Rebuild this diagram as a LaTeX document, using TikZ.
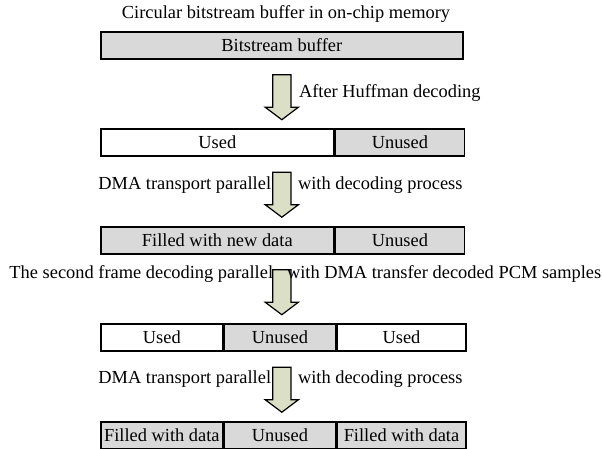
\documentclass[tikz,border=0pt]{standalone}
\usepackage{fontspec}
\setmainfont{Liberation Serif}
\definecolor{bufGray}{HTML}{D9D9D9}
\definecolor{bufOlive}{HTML}{DADFC6}
\usetikzlibrary{
	positioning,
	shapes.arrows
}

\begin{document}
\begin{tikzpicture}[x=1pt, y=-1pt,
		font=\fontsize{18.4}{22}\selectfont,
		cell/.style={rectangle, draw=black, line width=1.6pt, anchor=north west, minimum height=27pt, inner sep=0pt, text height=12.5pt, text depth=0.5pt},
		used/.style={cell, fill=white},
		free/.style={cell, fill=bufGray},
		bigarrow/.style={single arrow, draw=black, line width=1.2pt, fill=bufOlive, shape border rotate=270, minimum height=45pt, minimum width=32pt, inner xsep=8.5pt, inner ysep=0pt, single arrow head extend=7.5pt, single arrow tip angle=106},
		lbl/.style={inner sep=0pt, text height=12.5pt, text depth=4pt}
	]
		\useasboundingbox (0,0) rectangle (602,449);
		\node[lbl] (title) at (286,14) {Circular bitstream buffer in on-chip memory};
		\node[free, minimum width=362pt] (bitbuf) at (100,31) {Bitstream buffer};
		\node[used, minimum width=233pt] (usedA) at (100,128) {Used};
		\node[free, minimum width=129pt, right=0pt of usedA] (unusedA) {Unused};
		\node[free, minimum width=233pt] (newdata) at (100,226) {Filled with new data};
		\node[free, minimum width=129pt, right=0pt of newdata] (unusedB) {Unused};
		\node[used, minimum width=122pt] (usedB) at (100,323) {Used};
		\node[free, minimum width=111pt, right=0pt of usedB] (unusedC) {Unused};
		\node[used, minimum width=129pt, right=0pt of unusedC] (usedC) {Used};
		\node[free, minimum width=122pt] (dataA) at (100,421) {Filled with data};
		\node[free, minimum width=111pt, right=0pt of dataA] (unusedD) {Unused};
		\node[free, minimum width=129pt, right=0pt of unusedD] (dataB) {Filled with data};
		\path (bitbuf.south) -- (bitbuf.south |- usedA.north) node[midway, bigarrow] (arrowA) {};
		\path (bitbuf.south |- usedA.south) -- (bitbuf.south |- newdata.north) node[midway, bigarrow] (arrowB) {};
		\path (bitbuf.south |- newdata.south) -- (bitbuf.south |- unusedC.north) node[midway, bigarrow] (arrowC) {};
		\path (bitbuf.south |- unusedC.south) -- (bitbuf.south |- unusedD.north) node[midway, bigarrow] (arrowD) {};
		\node[lbl, right=17pt of arrowA.center, yshift=1pt] (huffman) {After Huffman decoding};
		\node[lbl, left=10.5pt of arrowB.center, yshift=6.5pt] (dmaA) {DMA transport parallel};
		\node[lbl, right=16pt of arrowB.center, yshift=6.5pt] (decA) {with decoding process};
		\node[lbl, left=8.5pt of arrowC.center, yshift=15pt] (frame) {The second frame decoding parallel};
		\node[lbl, right=5pt of arrowC.center, yshift=15pt] (pcm) {with DMA transfer decoded PCM samples};
		\node[lbl, left=10.5pt of arrowD.center, yshift=7.5pt] (dmaB) {DMA transport parallel};
		\node[lbl, right=16pt of arrowD.center, yshift=7.5pt] (decB) {with decoding process};
	\end{tikzpicture}
\end{document}
